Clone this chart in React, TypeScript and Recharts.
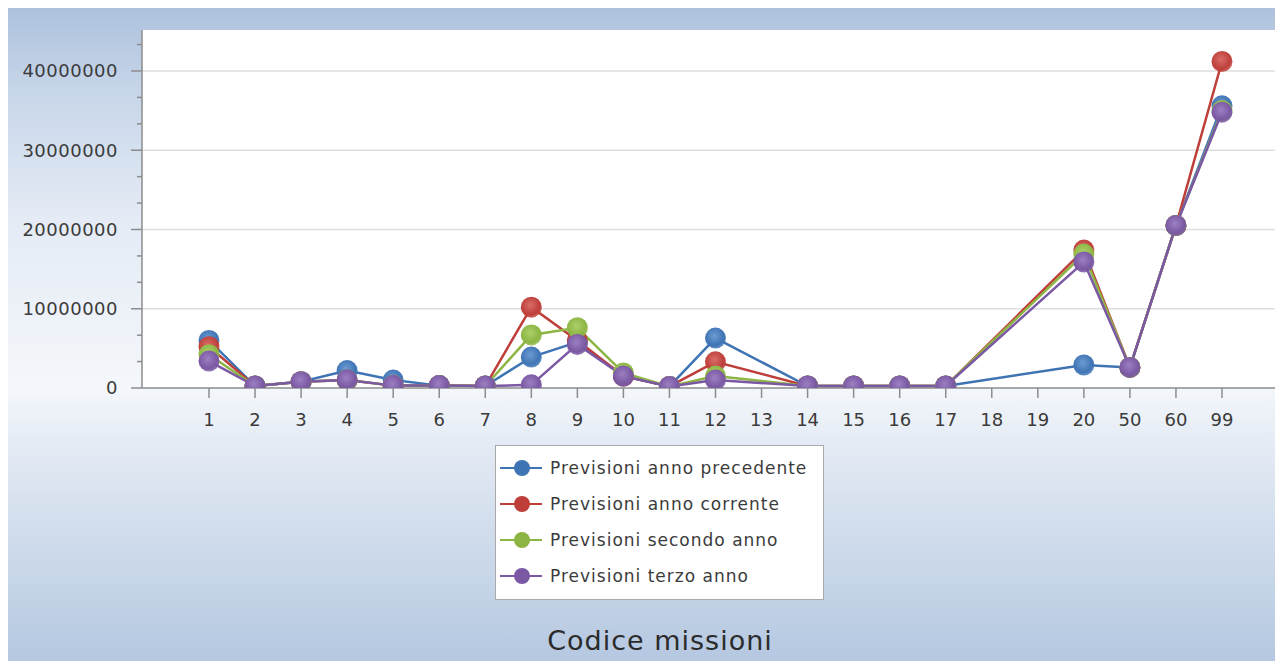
import React from 'react';
import { LineChart, Line, XAxis, YAxis, CartesianGrid, ReferenceLine } from 'recharts';

// ---------------- DATA ----------------
const CATEGORIES = ['1', '2', '3', '4', '5', '6', '7', '8', '9', '10', '11', '12', '13', '14', '15', '16', '17', '18', '19', '20', '50', '60', '99'];

const PRECEDENTE = [6000000, 250000, 800000, 2200000, 1000000, 300000, 250000, 3900000, 5800000, 1500000, 200000, 6300000, null, 250000, 250000, 250000, 250000, null, null, 2900000, 2600000, 20500000, 35600000];
const CORRENTE = [5200000, 250000, 800000, 1000000, 300000, 300000, 250000, 10200000, 6000000, 1500000, 200000, 3300000, null, 250000, 250000, 250000, 250000, null, null, 17400000, 2600000, 20500000, 41200000];
const SECONDO = [4200000, 250000, 800000, 1000000, 300000, 300000, 250000, 6700000, 7600000, 1900000, 200000, 1500000, null, 250000, 250000, 250000, 250000, null, null, 16900000, 2600000, 20500000, 35000000];
const TERZO = [3400000, 250000, 800000, 1000000, 300000, 300000, 250000, 400000, 5500000, 1500000, 200000, 1000000, null, 250000, 250000, 250000, 250000, null, null, 15900000, 2600000, 20500000, 34800000];

const SERIES_NAMES = ['Previsioni anno precedente', 'Previsioni anno corrente', 'Previsioni secondo anno', 'Previsioni terzo anno'];
const SERIES_KEYS = ['precedente', 'corrente', 'secondo', 'terzo'];
const SERIES_COLORS = ['#3f74b4', '#be3f3a', '#8db544', '#7a58a3'];
const SERIES_LIGHT = ['#6d9bd2', '#d96d67', '#acd06a', '#9c7fc2'];

const Y_MAJOR = [0, 10000000, 20000000, 30000000, 40000000];
const Y_MAX = 45170000;

// minor ticks every third of a major step
const Y_TICKS: number[] = [];
Y_MAJOR.forEach((v) => {
  [v, v + 3333333, v + 6666667].forEach((t) => {
    if (t <= Y_MAX) Y_TICKS.push(t);
  });
});

const data = CATEGORIES.map((name, i) => ({
  name,
  precedente: PRECEDENTE[i],
  corrente: CORRENTE[i],
  secondo: SECONDO[i],
  terzo: TERZO[i],
}));

const FONT = '"DejaVu Sans", sans-serif';
const TEXT = '#3b3b3b';

// plot box (chart coords) used to clip the markers like the original
const PLOT = { left: 134, top: 22, width: 1141, height: 358 };

// ---------------- TICKS ----------------
const YTick = ({ x, y, payload }: any) => {
  const major = Y_MAJOR.includes(payload.value);
  return (
    <g>
      <line x1={x - (major ? 11 : 5)} x2={x} y1={y} y2={y} stroke="#8c8c8c" strokeWidth={1.5} />
      {major && (
        <text x={x - 24} y={y} dy="0.36em" textAnchor="end" fill={TEXT} fontSize={18} letterSpacing={0.5} fontFamily={FONT}>
          {payload.value}
        </text>
      )}
    </g>
  );
};

const XTick = ({ x, y, payload }: any) => (
  <g>
    <line x1={x} x2={x} y1={y} y2={y + 10} stroke="#8c8c8c" strokeWidth={1.5} />
    <text x={x} y={y + 38} textAnchor="middle" fill={TEXT} fontSize={18} fontFamily={FONT}>
      {payload.value}
    </text>
  </g>
);

const makeDot = (k: string) => (p: any) => {
  if (p.cx == null || p.cy == null || p.value == null) return <g key={`${k}-${p.index}`} />;
  return <circle key={`${k}-${p.index}`} cx={p.cx} cy={p.cy} r={10.5} fill={`url(#dot-${k})`} clipPath="url(#plot-clip)" />;
};

// ---------------- LEGEND ----------------
function LegendBox() {
  return (
    <div
      style={{
        position: 'absolute',
        left: 487,
        top: 437,
        width: 327,
        height: 149,
        background: '#ffffff',
        border: '1px solid #a9a9a9',
        paddingTop: 4,
        boxSizing: 'content-box',
        fontFamily: FONT,
      }}>
      {SERIES_NAMES.map((n, i) => (
        <div key={n} style={{ height: 36, display: 'flex', alignItems: 'center' }}>
          <svg width={54} height={36} style={{ flex: 'none' }}>
            <line x1={4} x2={46} y1={18} y2={18} stroke={SERIES_COLORS[i]} strokeWidth={2} />
            <circle cx={26} cy={18} r={8} fill={SERIES_COLORS[i]} />
          </svg>
          <span style={{ fontSize: 17, letterSpacing: 1, color: TEXT, whiteSpace: 'nowrap' }}>{n}</span>
        </div>
      ))}
    </div>
  );
}

// ---------------- APP ----------------
export default function App() {
  return (
    <div
      style={{
        position: 'relative',
        width: 1275,
        height: 653,
        background: 'linear-gradient(to bottom, #aec2dd 0%, #c9d7ea 14%, #e4ebf5 32%, #f4f7fb 58%, #dfe7f2 70%, #c6d5e8 88%, #b5c8e1 100%)',
      }}>
      <LineChart width={1275} height={653} data={data} margin={{ top: 22, right: 0, left: 0, bottom: 213 }}>
        <defs>
          <clipPath id="plot-clip">
            <rect x={PLOT.left} y={PLOT.top} width={PLOT.width} height={PLOT.height} />
          </clipPath>
          {SERIES_KEYS.map((k, i) => (
            <radialGradient key={k} id={`dot-${k}`} cx="45%" cy="40%" r="60%">
              <stop offset="0%" stopColor={SERIES_LIGHT[i]} />
              <stop offset="75%" stopColor={SERIES_COLORS[i]} />
              <stop offset="100%" stopColor={SERIES_COLORS[i]} stopOpacity={0.8} />
            </radialGradient>
          ))}
        </defs>
        <CartesianGrid fill="#ffffff" horizontal={false} vertical={false} />
        {Y_MAJOR.slice(1).map((v) => (
          <ReferenceLine key={v} y={v} stroke="#dedede" strokeWidth={1.5} />
        ))}
        <XAxis
          dataKey="name"
          interval={0}
          padding={{ left: 67, right: 61 }}
          axisLine={{ stroke: '#8c8c8c', strokeWidth: 1.5 }}
          tickLine={false}
          tickSize={0}
          tickMargin={0}
          tick={<XTick />}
          height={60}
        />
        <YAxis
          width={134}
          domain={[0, Y_MAX]}
          ticks={Y_TICKS}
          interval={0}
          allowDataOverflow
          axisLine={{ stroke: '#8c8c8c', strokeWidth: 1.5 }}
          tickLine={false}
          tickSize={0}
          tickMargin={0}
          tick={<YTick />}
        />
        {SERIES_KEYS.map((k, i) => (
          <Line
            key={k}
            dataKey={k}
            name={SERIES_NAMES[i]}
            type="linear"
            stroke={SERIES_COLORS[i]}
            strokeWidth={2.5}
            connectNulls
            dot={makeDot(k)}
            activeDot={false}
            isAnimationActive={false}
          />
        ))}
      </LineChart>
      <LegendBox />
      <div
        style={{
          position: 'absolute',
          left: 352,
          top: 619,
          width: 600,
          textAlign: 'center',
          fontFamily: FONT,
          fontSize: 27,
          lineHeight: '27px',
          letterSpacing: 1,
          color: '#2b2b2b',
        }}>
        Codice missioni
      </div>
    </div>
  );
}
